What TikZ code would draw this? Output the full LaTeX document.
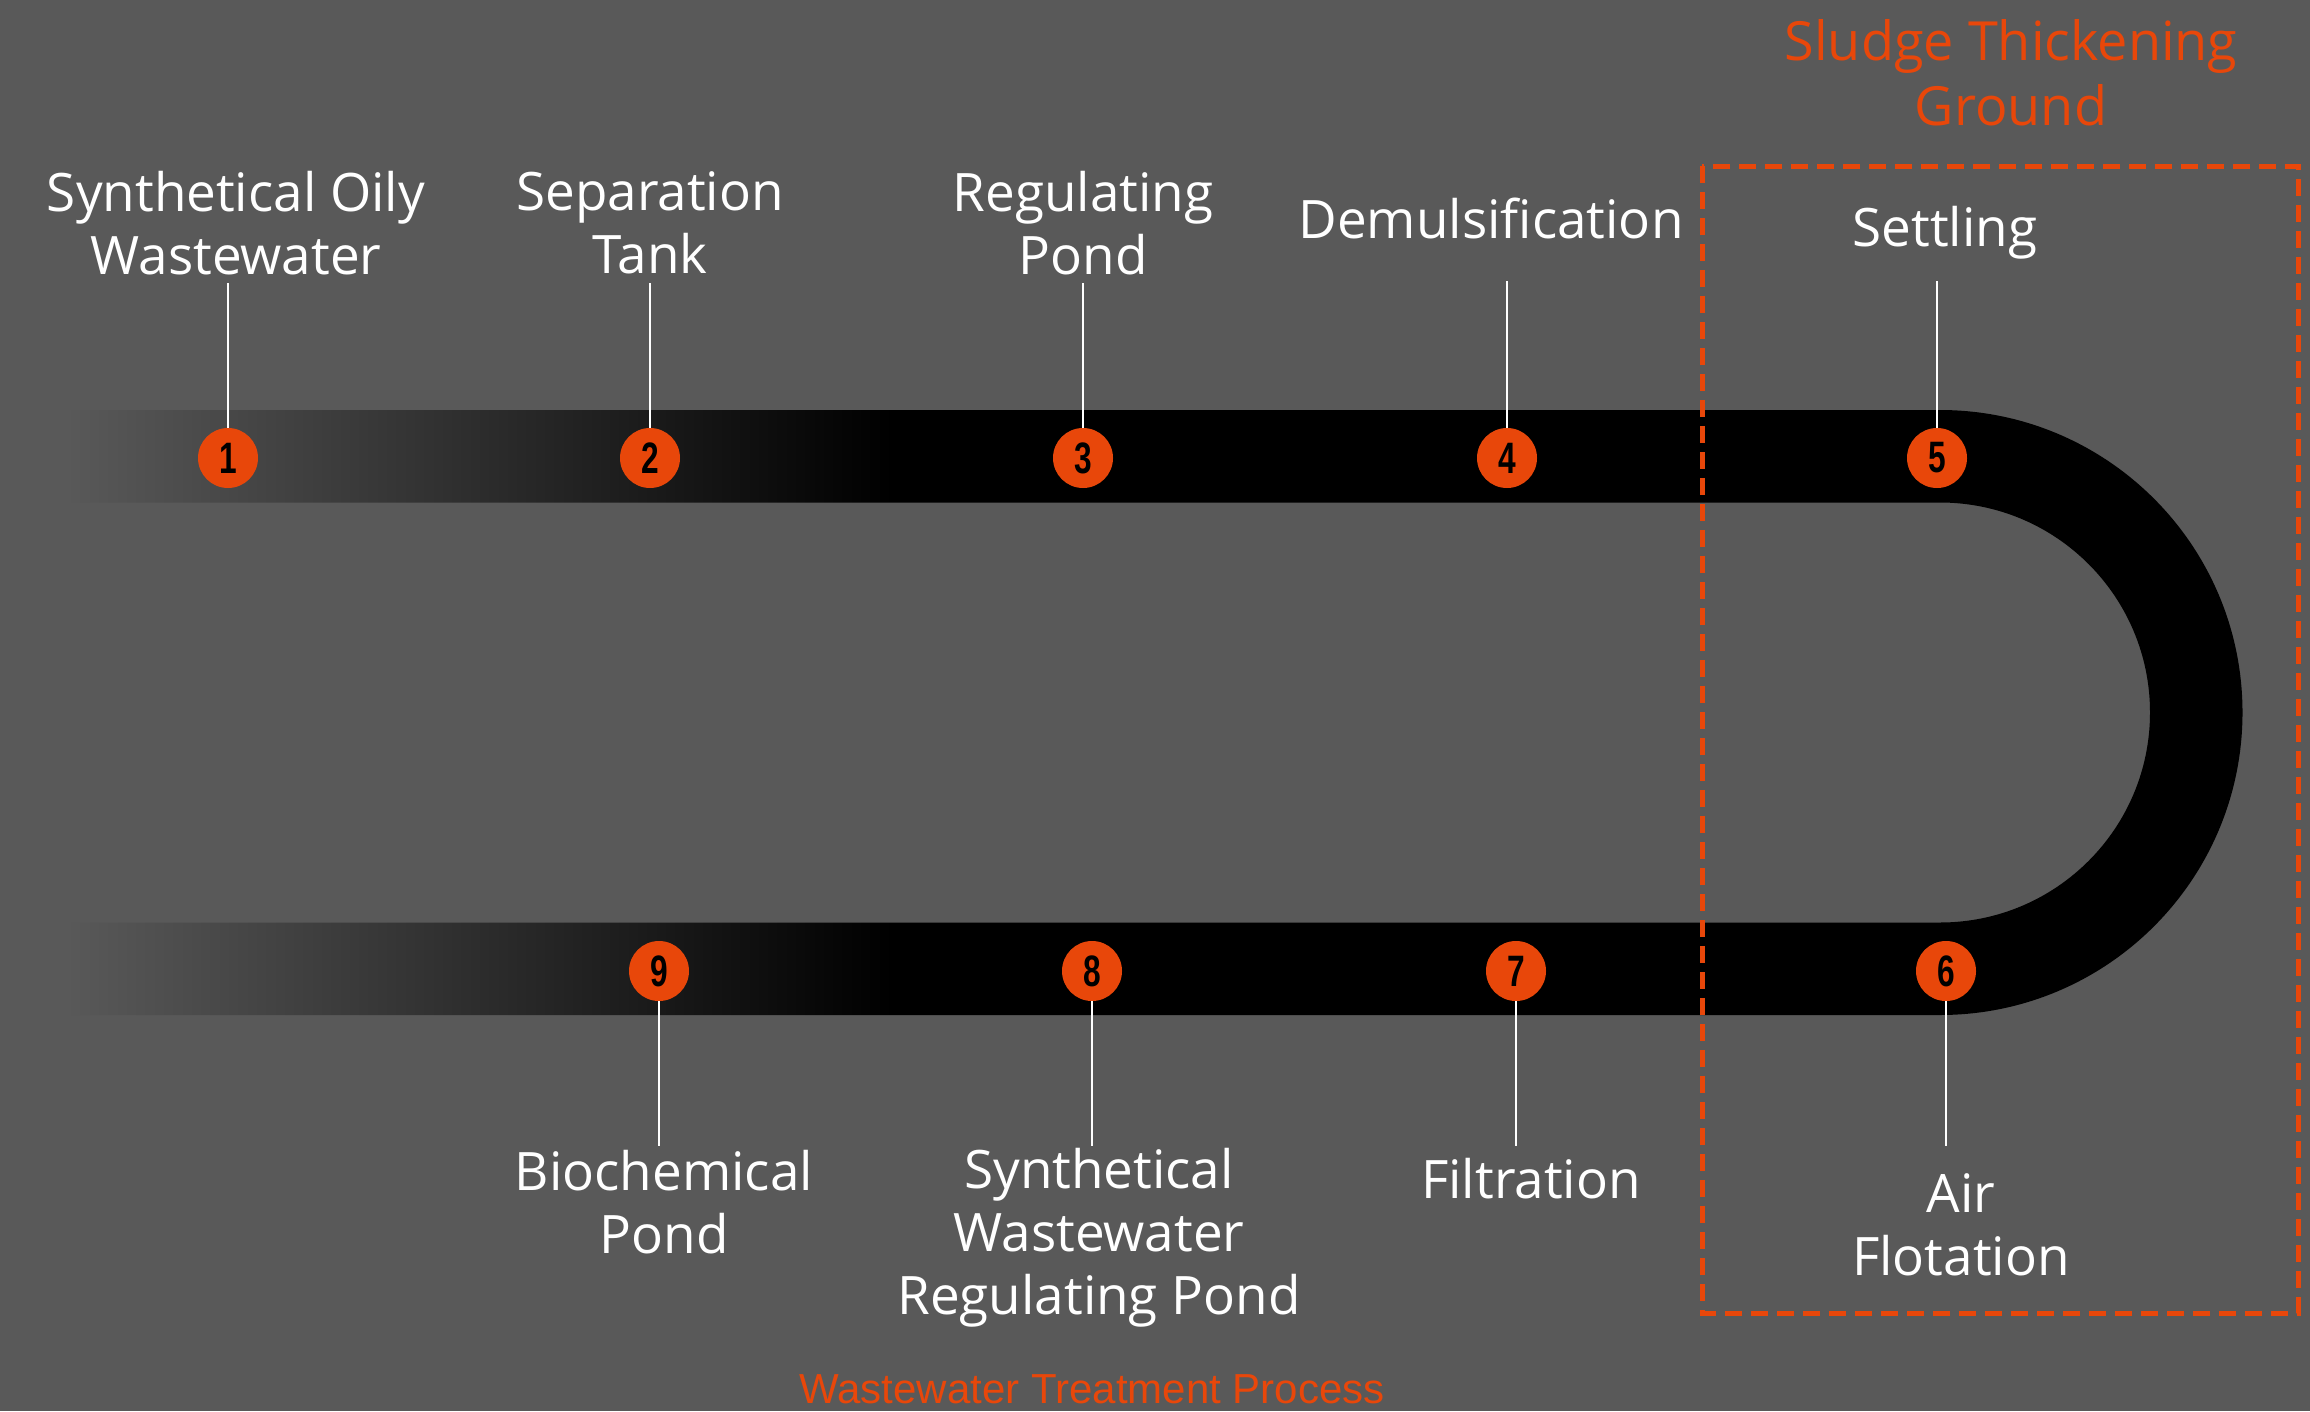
\documentclass[tikz,border=0pt]{standalone}
\usepackage{fontspec}
\setmainfont{Open Sans}
\newfontfamily\numfont[FakeStretch=0.72]{Liberation Sans}
\newfontfamily\capfont{Liberation Sans}
\definecolor{bgc}{HTML}{595959}
\definecolor{orng}{HTML}{E8470A}
\pgfdeclarehorizontalshading{bandshade}{100bp}{color(0bp)=(bgc); color(25bp)=(bgc); color(44bp)=(black); color(100bp)=(black)}
\begin{document}
\begin{tikzpicture}[x=1pt,y=1pt,
  lbl/.style={text=white, align=center, font=\fontsize{53}{63}\selectfont, inner sep=0pt},
  ttl/.style={text=orng, align=center, font=\fontsize{54}{65}\selectfont, inner sep=0pt},
  num/.style={circle, fill=orng, minimum size=60pt, inner sep=0pt, text=black,
    font=\numfont\bfseries\fontsize{44}{44}\selectfont},
  lead/.style={white, line width=2.5pt},
  zone/.style={orng, line width=5pt, dash pattern=on 17pt off 9pt}]
\fill[bgc] (0,0) rectangle (2310,-1411);
\useasboundingbox (0,0) rectangle (2310,-1411);
% band (U shape)
\shade[shading=bandshade] (66,-410) -- (1940,-410) arc[start angle=90, end angle=-90, radius=302.5]
  -- (66,-1015) -- (66,-922.5) -- (1940,-922.5) arc[start angle=-90, end angle=90, radius=210]
  -- (66,-502.5) -- cycle;
% zone
\draw[zone] (1702,-166) rectangle (2298,-1313);
\node[ttl] (zt) at (2011,-73) {Sludge Thickening\\Ground};
\node[text=orng, anchor=base, inner sep=0pt, font=\capfont\fontsize{42}{42}\selectfont] (bt) at (1092,-1403) {Wastewater Treatment Process};
% circles
\node[num] (c1) at (228,-458) {1};
\node[num] (c2) at (650,-458) {2};
\node[num] (c3) at (1083,-458) {3};
\node[num] (c4) at (1507,-458) {4};
\node[num] (c5) at (1937,-458) {5};
\node[num] (c6) at (1946,-971) {6};
\node[num] (c7) at (1516,-971) {7};
\node[num] (c8) at (1092,-971) {8};
\node[num] (c9) at (659,-971) {9};
% labels
\node[lbl] (l1) at (236,-223) {Synthetical Oily\\Wastewater};
\node[lbl] (l2) at (650,-223) {Separation\\Tank};
\node[lbl] (l3) at (1083,-223) {Regulating\\Pond};
\node[lbl] (l4) at (1491,-218) {Demulsification};
\node[lbl] (l5) at (1945,-233) {Settling};
\node[lbl] (l6) at (1961,-1225) {Air\\Flotation};
\node[lbl] (l7) at (1531,-1179) {Filtration};
\node[lbl] (l8) at (1099,-1238) {Synthetical\\Wastewater\\Regulating Pond};
\node[lbl] (l9) at (664,-1202) {Biochemical\\Pond};
% leader ends
\coordinate (t1) at (228,-283);
\coordinate (t2) at (650,-283);
\coordinate (t3) at (1083,-283);
\coordinate (t4) at (1507,-281);
\coordinate (t5) at (1937,-281);
\coordinate (t6) at (1946,-1146);
\coordinate (t7) at (1516,-1146);
\coordinate (t8) at (1092,-1146);
\coordinate (t9) at (659,-1146);
\foreach \i in {1,...,5} {\draw[lead] (t\i) -- (c\i.north);}
\foreach \i in {6,...,9} {\draw[lead] (c\i.south) -- (t\i);}
\end{tikzpicture}
\end{document}
